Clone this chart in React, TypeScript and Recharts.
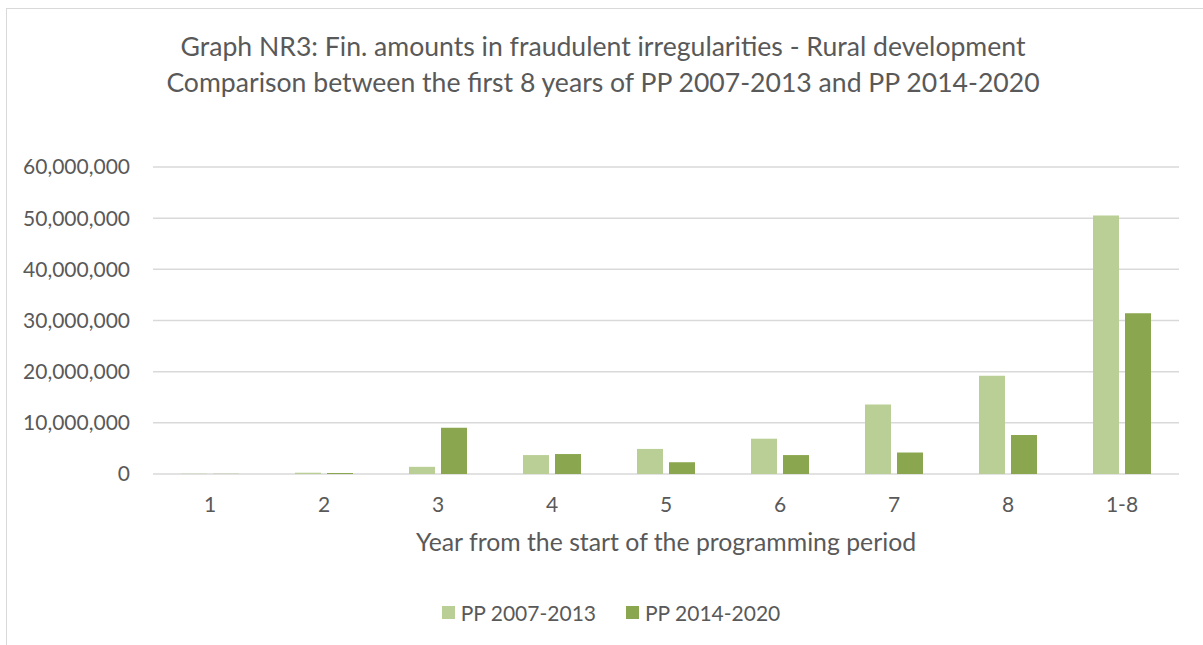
import { BarChart, Bar, XAxis, YAxis, CartesianGrid, Legend } from "recharts"

const years = ["1", "2", "3", "4", "5", "6", "7", "8", "1-8"]
const pp2007 = [50000, 250000, 1400000, 3700000, 4900000, 6900000, 13600000, 19200000, 50500000]
const pp2014 = [30000, 200000, 9050000, 3900000, 2300000, 3700000, 4200000, 7600000, 31400000]
const yTicks = [0, 10000000, 20000000, 30000000, 40000000, 50000000, 60000000]
const titleLines = [
  "Graph NR3: Fin. amounts in fraudulent irregularities - Rural development",
  "Comparison between the first 8 years of PP 2007-2013 and PP 2014-2020",
]

const colors = {
  light: "#bacf96",
  dark: "#8aa64e",
  grid: "#d9d9d9",
  text: "#595959",
}

const FONT = "Lato, 'Open Sans', sans-serif"

const data = years.map((year, i) => ({ year, pp2007: pp2007[i], pp2014: pp2014[i] }))

const LegendContent = ({ payload }: any) => (
  <div style={{ display: "flex", justifyContent: "center", alignItems: "center", fontFamily: FONT }}>
    {(payload || []).map((entry: any, i: number) => (
      <div key={i} style={{ display: "flex", alignItems: "center", marginRight: i === 0 ? 30 : 0 }}>
        <span style={{ width: 13, height: 13, background: entry.color, display: "inline-block", marginRight: 6 }} />
        <span style={{ fontSize: 21, color: colors.text }}>{entry.value}</span>
      </div>
    ))}
  </div>
)

export default function App() {
  return (
    <div style={{ position: "absolute", left: 0, top: 0, width: 1203, height: 645, overflow: "hidden", background: "#fff" }}>
      <div
        style={{
          position: "absolute",
          left: 6,
          top: 8,
          width: 1300,
          height: 700,
          border: `1px solid ${colors.grid}`,
        }}
      />
      <div
        style={{
          position: "absolute",
          left: 0,
          top: 28,
          width: 1206,
          textAlign: "center",
          fontFamily: FONT,
          fontSize: 26.6,
          lineHeight: "36px",
          color: colors.text,
        }}
      >
        {titleLines.map((t) => (
          <div key={t}>{t}</div>
        ))}
      </div>
      <div style={{ position: "absolute", left: 0, top: 0 }}>
        <BarChart
          width={1203}
          height={645}
          data={data}
          margin={{ top: 167, right: 24, bottom: 94, left: 23 }}
          barSize={26}
          barGap={6}
        >
          <CartesianGrid vertical={false} stroke={colors.grid} strokeWidth={1.5} />
          <XAxis
            dataKey="year"
            height={77}
            tickLine={false}
            axisLine={false}
            tickMargin={17}
            tick={{ fontSize: 21, fill: colors.text, fontFamily: FONT }}
            label={{
              value: "Year from the start of the programming period",
              position: "insideBottom",
              offset: 0,
              fontSize: 24.8,
              fill: colors.text,
              fontFamily: FONT,
            }}
          />
          <YAxis
            width={130}
            domain={[0, 60000000]}
            ticks={yTicks}
            tickLine={false}
            axisLine={false}
            tickMargin={17}
            tickFormatter={(v: number) => v.toLocaleString("en-US")}
            tick={{ fontSize: 21, fill: colors.text, fontFamily: FONT }}
          />
          <Legend
            layout="horizontal"
            verticalAlign="middle"
            align="center"
            wrapperStyle={{ top: 600, left: 411, width: 400 }}
            content={<LegendContent />}
          />
          <Bar dataKey="pp2007" name="PP 2007-2013" fill={colors.light} isAnimationActive={false} />
          <Bar dataKey="pp2014" name="PP 2014-2020" fill={colors.dark} isAnimationActive={false} />
        </BarChart>
      </div>
    </div>
  )
}
